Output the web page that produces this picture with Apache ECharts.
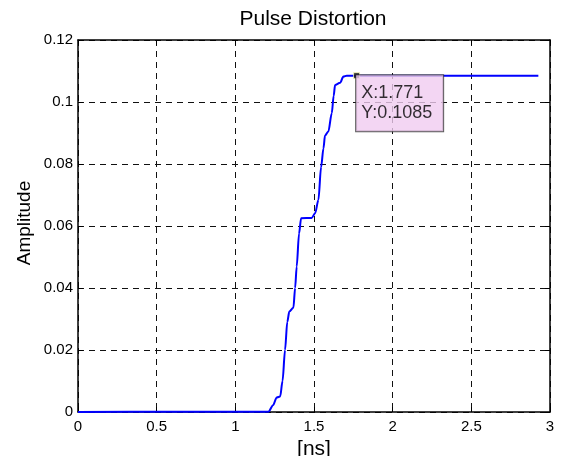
<!DOCTYPE html>
<html>
<head>
<meta charset="utf-8">
<script src="https://cdn.jsdelivr.net/npm/echarts@6/dist/echarts.min.js"></script>
<style>html,body{margin:0;padding:0;background:#fff}#c{width:561px;height:456px}</style>
</head>
<body>
<div id="c"></div>
<script>
const titleText = 'Pulse Distortion';
const xName = '[ns]';
const yName = 'Amplitude';
const xTicks = [0, 0.5, 1, 1.5, 2, 2.5, 3];
const yTicks = [0, 0.02, 0.04, 0.06, 0.08, 0.1, 0.12];
const timeNs = [0, 0.58, 1.21, 1.24, 1.263, 1.285, 1.30, 1.316, 1.33, 1.343, 1.369, 1.38, 1.390, 1.405, 1.418, 1.485, 1.507, 1.528, 1.545, 1.560, 1.570, 1.591, 1.613, 1.625, 1.634, 1.666, 1.687, 1.708, 2.926];
const amplitude = [0, 0.0001, 0.0001, 0.0022, 0.0047, 0.0050, 0.0100, 0.0200, 0.0290, 0.0324, 0.0336, 0.0400, 0.0469, 0.0576, 0.0625, 0.0626, 0.0641, 0.0684, 0.0790, 0.0850, 0.0892, 0.0905, 0.0964, 0.1020, 0.1055, 0.1062, 0.1082, 0.1085, 0.1085];
const tipX = 1.771;
const tipY = 0.1085;

const FONT = 'Liberation Sans, Arial, Helvetica, sans-serif';
const lineData = timeNs.map((t, i) => [t, amplitude[i]]);

const chart = echarts.init(document.getElementById('c'), null, {renderer: 'canvas'});
const xMin = xTicks[0], xMax = xTicks[xTicks.length - 1], xInt = xTicks[1] - xTicks[0];
const yMin = yTicks[0], yMax = yTicks[yTicks.length - 1], yInt = yTicks[1] - yTicks[0];
const tickStyle = {show: true, inside: true, length: 5, lineStyle: {color: '#000', width: 1}};
const gridLine = {show: true, lineStyle: {color: '#111', width: 1, type: [6, 5]}};
const axisLine = {show: true, onZero: false, lineStyle: {color: '#000', width: 1.5}};

chart.setOption({
  animation: false,
  backgroundColor: '#fff',
  graphic: [{
    type: 'text', x: 313, y: 19, z: 10,
    style: {text: titleText, x: 0, y: 0, align: 'center', verticalAlign: 'middle',
      font: '21px ' + FONT, fill: '#000'}
  }, {
    type: 'text', x: 25, y: 223, rotation: Math.PI / 2, z: 10,
    style: {text: yName, x: 0, y: 0, align: 'center', verticalAlign: 'middle',
      font: '19px ' + FONT, fill: '#000'}
  }],
  grid: {left: 78, right: 11, top: 40, bottom: 44, containLabel: false, outerBoundsMode: 'none'},
  xAxis: [{
    type: 'value', min: xMin, max: xMax, interval: xInt, position: 'bottom',
    name: xName, nameLocation: 'middle', nameGap: 26,
    nameTextStyle: {fontFamily: FONT, fontSize: 21, color: '#000'},
    axisLine: axisLine, axisTick: tickStyle, splitLine: gridLine,
    axisLabel: {fontFamily: FONT, fontSize: 15, color: '#000', margin: 7, formatter: v => String(v)}
  }, {
    type: 'value', min: xMin, max: xMax, interval: xInt, position: 'top',
    axisLine: axisLine, axisTick: tickStyle, splitLine: {show: false}, axisLabel: {show: false}
  }],
  yAxis: [{
    type: 'value', min: yMin, max: yMax, interval: yInt, position: 'left',
    axisLine: axisLine, axisTick: tickStyle, splitLine: gridLine,
    axisLabel: {fontFamily: FONT, fontSize: 15, color: '#000', margin: 5, formatter: v => String(+v.toFixed(4))}
  }, {
    type: 'value', min: yMin, max: yMax, interval: yInt, position: 'right',
    axisLine: axisLine, axisTick: tickStyle, splitLine: {show: false}, axisLabel: {show: false}
  }],
  series: [{
    type: 'line', xAxisIndex: 0, yAxisIndex: 0, data: lineData,
    showSymbol: false, symbol: 'none', smooth: 0.3, smoothMonotone: 'x',
    lineStyle: {color: '#0000ff', width: 2}
  }, {
    type: 'scatter', xAxisIndex: 0, yAxisIndex: 0, data: [[tipX, tipY]],
    symbol: 'rect', symbolSize: 6,
    itemStyle: {color: '#000', borderColor: '#ffffc0', borderWidth: 1},
    label: {
      show: true, position: [3, 3],
      formatter: 'X:' + tipX + '\nY:' + tipY,
      fontFamily: FONT, fontSize: 18, lineHeight: 20, color: '#000',
      backgroundColor: '#f0ccf0', borderColor: '#333', borderWidth: 1,
      padding: [8, 6, 8, 5], width: 76, align: 'left'
    },
    z: 5
  }]
});
</script>
</body>
</html>
